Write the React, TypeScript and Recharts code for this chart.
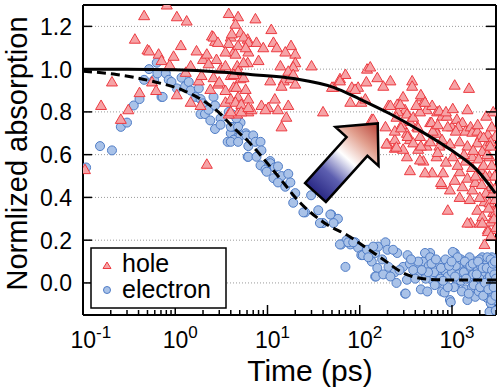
import { ComposedChart, Scatter, Line, XAxis, YAxis, CartesianGrid } from 'recharts';

// hole (triangles): [time ps, normalized absorption]
const hole: [number, number][] = [
  [0.105, 0.53], [0.157, 0.83], [0.206, 0.94], [0.257, 0.765], [0.31, 0.81], [0.365, 1.14], [0.41, 0.89],
  [0.46, 1.25], [0.5, 1.09], [0.52, 1.085], [0.56, 0.94], [0.62, 0.9], [0.66, 1.07], [0.71, 1.04], [0.81, 1.3],
  [0.87, 1.02], [0.96, 1.06], [1.04, 1.245], [1.15, 1.11], [1.04, 0.88], [1.3, 0.985], [1.33, 1.225],
  [1.47, 1.015], [1.47, 0.845], [1.7, 1.085], [1.8, 0.945], [1.88, 0.83], [1.93, 0.97], [2.0, 1.045],
  [2.2, 1.07], [2.4, 0.905], [2.3, 1.025], [2.5, 1.155], [2.7, 1.13], [2.6, 0.96], [2.8, 1.045], [3.1, 1.0],
  [2.9, 0.93], [2.2, 0.555], [2.6, 1.15], [2.9, 1.125], [3.0, 0.94],
  [3.8, 1.26], [4.8, 1.245], [4.5, 1.21], [5.1, 1.17], [4.0, 1.15], [3.8, 1.12], [6.1, 1.14], [4.3, 1.08],
  [6.2, 1.08], [6.1, 1.03], [4.7, 1.015], [4.0, 0.97], [5.1, 0.955], [4.3, 0.915], [5.8, 0.905], [4.7, 0.86],
  [3.5, 0.845], [6.2, 0.86], [4.7, 0.79], [3.8, 0.79], [6.2, 0.8],
  [7.4, 1.235], [11, 1.185], [4.1, 1.165], [5.5, 1.15], [6.2, 1.125], [7.6, 1.125], [4.8, 1.11], [5.8, 1.1],
  [9.0, 1.1], [11.6, 1.125], [12.6, 1.1], [18, 1.11], [15.6, 1.08], [20, 1.07], [3.5, 1.08], [4.5, 1.07],
  [5.5, 1.03], [8, 1.04], [20, 1.03], [19, 1.01], [13.8, 1.015], [30, 1.015], [16.8, 0.99], [3.5, 1.015],
  [4.8, 0.99], [4.3, 0.975], [5.5, 0.96], [10.7, 0.945], [15, 0.945], [17.7, 0.955], [19, 0.975], [14.2, 0.92],
  [20, 0.93], [4.6, 0.915], [3.5, 0.9], [4.0, 0.86], [4.8, 0.87], [4.5, 0.845], [5.2, 0.835], [8.6, 0.83],
  [10.2, 0.82], [12, 0.86], [13, 0.81], [16.8, 0.83], [6.7, 0.81], [9.5, 0.81], [16, 0.775], [14.2, 0.73],
  [40, 0.8], [52, 0.915], [61, 0.955], [70, 0.975], [82, 0.915], [96, 0.915], [79, 0.845], [104, 0.845],
  [5.2, 0.8], [4.0, 0.8], [6.2, 0.82], [50, 0.915], [61, 0.945], [89, 0.905], [115, 0.86],
  [120, 1.0], [155, 0.96], [215, 0.945], [370, 0.945], [370, 0.92], [1070, 0.925], [1530, 0.91], [130, 1.01],
  [118, 0.94], [180, 0.92], [135, 0.765], [190, 0.73], [200, 0.65], [240, 0.63], [240, 0.67], [295, 0.87],
  [255, 0.835], [205, 0.83], [310, 0.81], [260, 0.8], [325, 0.79], [350, 0.755], [285, 0.74], [325, 0.7],
  [350, 0.67], [420, 0.73], [380, 0.775], [470, 0.87], [490, 0.845], [530, 0.81], [450, 0.8], [610, 0.83],
  [690, 0.8], [780, 0.78], [580, 0.75], [650, 0.725], [450, 0.685], [530, 0.64], [690, 0.7], [780, 0.67],
  [880, 0.78], [1000, 0.73], [1130, 0.765], [1300, 0.75], [1470, 0.81], [430, 0.625], [325, 0.59],
  [490, 0.57], [610, 0.515], [780, 0.46], [950, 0.435], [800, 0.515],
  [275, 0.835], [460, 0.88], [510, 0.845], [410, 0.83], [215, 0.83], [250, 0.775], [730, 0.805], [860, 0.8],
  [1020, 0.815], [140, 0.765], [240, 0.71], [280, 0.725], [330, 0.685], [430, 0.725], [600, 0.75], [620, 0.71],
  [700, 0.74], [900, 0.73], [1170, 0.73], [1100, 0.71], [1400, 0.71], [1590, 0.73], [1660, 0.705], [1880, 0.71],
  [2040, 0.685], [2450, 0.695], [2950, 0.685], [195, 0.65], [380, 0.655], [460, 0.64], [580, 0.66], [730, 0.64],
  [950, 0.65], [1210, 0.66], [1470, 0.64], [1880, 0.655], [2330, 0.64], [2630, 0.66], [295, 0.625], [250, 0.635],
  [450, 0.575], [680, 0.59], [1020, 0.59], [1660, 0.59], [2550, 0.59], [2130, 0.615],
  [350, 0.525], [510, 0.515], [700, 0.61], [860, 0.565], [760, 0.47], [900, 0.34], [1070, 0.48], [1210, 0.52],
  [1300, 0.45], [1470, 0.49], [1660, 0.435], [1790, 0.47], [1590, 0.28], [1880, 0.34], [2000, 0.28], [2130, 0.31],
  [2250, 0.38], [2450, 0.25], [2630, 0.285], [2800, 0.33], [2950, 0.25], [2250, 0.18], [2550, 0.375], [2950, 0.39],
  [3000, 0.26], [1400, 0.57], [2040, 0.53], [2550, 0.5], [2630, 0.45], [2330, 0.42], [1560, 0.39], [1210, 0.4],
  [1470, 0.28], [2130, 0.28], [2450, 0.24], [2950, 0.33],
  [1700, 0.62], [1950, 0.58], [2200, 0.55], [2400, 0.6], [2700, 0.55], [2900, 0.5], [2750, 0.42], [2500, 0.35],
  [2850, 0.3], [2650, 0.22], [1800, 0.5], [2100, 0.46], [2300, 0.5], [1350, 0.6], [1150, 0.55], [1650, 0.54],
  [2000, 0.4], [2900, 0.44], [2600, 0.64], [2200, 0.68], [1900, 0.74], [2700, 0.73], [2350, 0.78], [2800, 0.8],
];

// electron (circles): [time ps, normalized absorption]
const electron: [number, number][] = [
  [0.108, 0.54], [0.153, 0.64], [0.206, 0.62], [0.257, 0.73], [0.3, 0.75], [0.355, 0.83], [0.41, 0.86],
  [0.46, 0.95], [0.52, 1.0], [0.63, 1.03], [0.71, 0.87], [0.59, 0.95], [0.64, 0.98], [0.73, 0.87], [0.79, 0.98],
  [0.85, 0.95], [0.91, 0.94], [1.04, 0.91], [1.17, 0.96], [1.28, 0.92], [1.4, 0.94], [1.47, 0.9], [1.66, 0.87],
  [1.8, 0.91], [1.88, 0.86], [2.0, 0.84], [1.88, 0.79], [2.1, 0.79], [2.3, 0.81], [2.4, 0.76], [2.6, 0.87],
  [2.7, 0.83], [2.7, 0.72], [3.1, 0.77], [3.1, 0.74],
  [3.7, 0.66], [4.0, 0.7], [4.3, 0.73], [4.7, 0.68], [6.1, 0.59], [5.1, 0.75], [5.8, 0.7], [3.8, 0.8],
  [4.1, 0.79], [4.0, 0.73], [4.6, 0.77], [4.8, 0.73], [4.3, 0.67], [5.1, 0.69], [4.0, 0.66], [4.8, 0.66],
  [5.9, 0.69], [7.0, 0.69], [6.2, 0.64], [7.4, 0.66], [8.4, 0.66], [8.6, 0.62], [6.2, 0.59], [10.7, 0.57],
  [7.6, 0.59], [8.4, 0.55], [9.5, 0.53], [10.7, 0.56], [12, 0.54], [13, 0.545], [9.8, 0.52], [11.6, 0.49],
  [14.2, 0.5], [16.8, 0.51], [13, 0.47], [15.6, 0.45], [17.7, 0.47], [20, 0.42], [19, 0.375], [25.6, 0.33],
  [29.7, 0.41], [35.5, 0.34], [40, 0.28], [49, 0.32], [58, 0.3], [52, 0.28], [63, 0.18], [72, 0.2], [79, 0.18],
  [89, 0.19], [96, 0.165], [104, 0.13], [70, 0.075],
  [24.5, 0.33], [37, 0.28], [48, 0.32], [61, 0.18], [75, 0.19], [85, 0.19], [108, 0.13], [120, 0.155],
  [135, 0.1], [147, 0.14], [158, 0.17], [190, 0.19], [175, 0.11], [155, 0.07], [200, 0.155], [205, 0.075],
  [147, 0.03], [255, 0.14], [240, 0.05], [295, 0.075], [310, -0.05], [325, 0.015], [350, 0.09], [420, 0.04],
  [450, 0.07], [490, 0.1], [580, 0.14], [610, 0.015], [690, 0.045], [780, -0.04], [880, 0.085], [950, -0.08],
  [1070, 0.14], [1130, 0.0], [1300, 0.07], [1570, 0.03], [1850, 0.1], [2000, 0.015], [2250, 0.06], [2400, -0.07],
  [2560, 0.0], [2700, -0.12], [2950, 0.047],
  [140, 0.17], [124, 0.12], [150, 0.03], [180, 0.04], [230, 0.155], [315, -0.05], [330, 0.13], [430, 0.1],
  [510, 0.14], [580, 0.12], [1020, 0.145], [970, -0.09], [1210, 0.09], [1470, -0.08], [1750, 0.1], [2130, 0.12],
  [2630, -0.095], [2550, -0.135], [2950, -0.03], [1790, -0.065], [700, 0.0], [830, -0.045], [460, -0.03],
  [250, 0.0], [215, 0.03],
  [380, 0.06], [520, 0.02], [560, 0.08], [640, 0.05], [720, 0.09], [750, 0.02], [820, 0.06], [900, 0.03],
  [1000, 0.05], [1050, -0.02], [1100, 0.08], [1180, 0.04], [1250, 0.01], [1350, 0.05], [1400, -0.03],
  [1450, 0.09], [1500, 0.02], [1600, 0.07], [1650, -0.02], [1700, 0.04], [1800, 0.0], [1900, 0.06],
  [1950, -0.04], [2050, 0.08], [2100, 0.03], [2200, -0.02], [2300, 0.05], [2350, 0.1], [2450, 0.02],
  [2500, 0.06], [2600, -0.04], [2650, 0.08], [2750, 0.03], [2800, -0.06], [2850, 0.06], [2900, 0.0],
  [3000, -0.08], [3000, 0.09], [2980, -0.13], [1250, 0.11], [900, -0.02], [650, -0.01], [550, 0.05],
  [400, 0.02], [360, 0.11], [270, 0.06], [1550, 0.12], [2000, 0.11], [2700, 0.12],
  [600, 0.09], [670, 0.11], [760, 0.07], [850, 0.11], [930, 0.08], [1150, 0.12], [1280, -0.04], [1380, 0.1],
  [1420, 0.02], [1520, -0.05], [1580, 0.08], [1680, 0.09], [1720, -0.01], [1850, 0.04], [1920, 0.1],
  [2020, -0.02], [2150, 0.07], [2180, -0.06], [2280, 0.0], [2380, 0.07], [2420, 0.12], [2480, -0.03],
  [2580, 0.03], [2620, 0.11], [2680, -0.08], [2720, 0.06], [2780, 0.09], [2830, -0.02], [2880, 0.04],
  [2920, 0.1], [2960, -0.06], [2990, 0.02], [1080, 0.03], [990, 0.1], [800, 0.01], [470, 0.06], [540, -0.04],
];

// fit curves
const holeFit: [number, number][] = [
  [0.1, 1.0], [0.3, 1.0], [1, 0.997], [3, 0.987], [6.5, 0.975], [20, 0.955], [52, 0.915], [100, 0.86],
  [215, 0.79], [420, 0.72], [950, 0.625], [1850, 0.53], [2950, 0.42],
];
const electronFit: [number, number][] = [
  [0.1, 0.99], [0.23, 0.975], [0.54, 0.945], [1.23, 0.9], [1.88, 0.86], [3.1, 0.79], [4.3, 0.725],
  [6.1, 0.665], [7.4, 0.625], [13, 0.5], [22.6, 0.375], [40, 0.285], [79, 0.215], [104, 0.18], [180, 0.11],
  [295, 0.047], [490, 0.02], [860, 0.014], [3000, 0.014],
];

const xTicks = [
  0.1, 0.2, 0.3, 0.4, 0.5, 0.6, 0.7, 0.8, 0.9, 1, 2, 3, 4, 5, 6, 7, 8, 9, 10, 20, 30, 40, 50, 60, 70, 80, 90,
  100, 200, 300, 400, 500, 600, 700, 800, 900, 1000, 2000, 3000,
];
const xMajor = [0.1, 1, 10, 100, 1000];
const xExp = ['-1', '0', '1', '2', '3'];
const yTicks = [0, 0.2, 0.4, 0.6, 0.8, 1.0, 1.2];

const FONT = '"Liberation Sans", Arial, Helvetica, sans-serif';
const RED_FILL = '#f6a3a6';
const RED_STROKE = '#ec3a40';
const BLUE_FILL = '#a9c2e8';
const BLUE_STROKE = '#4f7cc6';

const W = 500;
const H = 392;
const MARGIN = { top: 4, right: 3, bottom: 17, left: 23 };
const X_DOMAIN: [number, number] = [0.1, 3000];
const Y_DOMAIN: [number, number] = [-0.15, 1.3];

const toPts = (arr: [number, number][]) => arr.map(([t, y]) => ({ t, y }));

function Triangle({ cx, cy }: any) {
  return (
    <polygon
      points={`${cx},${cy - 5.5} ${cx + 5.5},${cy + 4} ${cx - 5.5},${cy + 4}`}
      fill={RED_FILL}
      stroke={RED_STROKE}
      strokeWidth={1}
    />
  );
}

function Dot({ cx, cy }: any) {
  return <circle cx={cx} cy={cy} r={4.5} fill={BLUE_FILL} stroke={BLUE_STROKE} strokeWidth={1} />;
}

function BottomTick({ x, y, payload }: any) {
  const i = xMajor.indexOf(payload.value);
  const major = i >= 0;
  return (
    <g>
      <line x1={x} x2={x} y1={y} y2={y - (major ? 10 : 5)} stroke="#000" strokeWidth={1.5} />
      {major && (
        <text x={x - 12.5} y={y + 33} fontSize={23} fontFamily={FONT} fill="#000">
          10<tspan dy={-10} fontSize={17}>{xExp[i]}</tspan>
        </text>
      )}
    </g>
  );
}

function TopTick({ x, y, payload }: any) {
  const major = xMajor.includes(payload.value);
  return <line x1={x} x2={x} y1={y} y2={y + (major ? 10 : 6)} stroke="#000" strokeWidth={1.5} />;
}

function LeftTick({ x, y, payload }: any) {
  return (
    <g>
      <line x1={x} x2={x + 9} y1={y} y2={y} stroke="#000" strokeWidth={1.5} />
      <text x={x - 11} y={y + 8.5} textAnchor="end" fontSize={23} fontFamily={FONT} fill="#000">
        {payload.value.toFixed(1)}
      </text>
    </g>
  );
}

function RightTick({ x, y }: any) {
  return <line x1={x} x2={x - 10} y1={y} y2={y} stroke="#000" strokeWidth={1.5} />;
}

export default function App() {
  return (
    <div style={{ position: 'absolute', left: 0, top: 0, width: W, height: H, background: '#fff' }}>
      {/* markers, grid and frame */}
      <ComposedChart width={W} height={H} margin={MARGIN}>
        <CartesianGrid vertical={false} stroke="#9a9a9a" strokeDasharray="1 2" />
        <XAxis
          dataKey="t"
          type="number"
          scale="log"
          domain={X_DOMAIN}
          allowDataOverflow
          ticks={xTicks}
          interval={0}
          height={60}
          tickSize={0}
          tickMargin={0}
          tick={BottomTick}
          axisLine={{ stroke: '#000', strokeWidth: 2 }}
        />
        <XAxis
          xAxisId="top"
          orientation="top"
          type="number"
          scale="log"
          domain={X_DOMAIN}
          allowDataOverflow
          ticks={xTicks}
          interval={0}
          height={1}
          tickSize={0}
          tickMargin={0}
          tick={TopTick}
          axisLine={{ stroke: '#000', strokeWidth: 2 }}
        />
        <YAxis
          dataKey="y"
          type="number"
          domain={Y_DOMAIN}
          allowDataOverflow
          ticks={yTicks}
          interval={0}
          width={60}
          tickSize={0}
          tickMargin={0}
          tick={LeftTick}
          axisLine={{ stroke: '#000', strokeWidth: 2 }}
        />
        <YAxis
          yAxisId="r"
          orientation="right"
          type="number"
          domain={Y_DOMAIN}
          allowDataOverflow
          ticks={yTicks}
          interval={0}
          width={1}
          tickSize={0}
          tickMargin={0}
          tick={RightTick}
          axisLine={{ stroke: '#000', strokeWidth: 2 }}
        />
        <Scatter data={toPts(electron)} dataKey="y" shape={Dot} isAnimationActive={false} />
        <Scatter data={toPts(hole)} dataKey="y" shape={Triangle} isAnimationActive={false} />
      </ComposedChart>

      {/* fit curves, drawn on top of the markers with the same axes */}
      <div style={{ position: 'absolute', left: 0, top: 0, pointerEvents: 'none' }}>
        <ComposedChart width={W} height={H} margin={MARGIN}>
          <XAxis
            dataKey="t"
            type="number"
            scale="log"
            domain={X_DOMAIN}
            allowDataOverflow
            height={60}
            tick={false}
            axisLine={false}
            tickLine={false}
          />
          <XAxis xAxisId="top" orientation="top" type="number" height={1} tick={false} axisLine={false} tickLine={false} />
          <YAxis
            dataKey="y"
            type="number"
            domain={Y_DOMAIN}
            allowDataOverflow
            width={60}
            tick={false}
            axisLine={false}
            tickLine={false}
          />
          <YAxis yAxisId="r" orientation="right" type="number" width={1} tick={false} axisLine={false} tickLine={false} />
          <Line
            data={toPts(holeFit)}
            dataKey="y"
            type="monotone"
            stroke="#000"
            strokeWidth={3}
            dot={false}
            isAnimationActive={false}
          />
          <Line
            data={toPts(electronFit)}
            dataKey="y"
            type="monotone"
            stroke="#000"
            strokeWidth={3}
            strokeDasharray="9 5"
            dot={false}
            isAnimationActive={false}
          />
        </ComposedChart>
      </div>

      <svg width={W} height={H} style={{ position: 'absolute', left: 0, top: 0, pointerEvents: 'none' }}>
        <defs>
          <linearGradient id="arrowGrad" gradientUnits="userSpaceOnUse" x1={0} y1={0} x2={93} y2={0}>
            <stop offset="0" stopColor="#2a2985" />
            <stop offset="0.25" stopColor="#5d5fb0" />
            <stop offset="0.5" stopColor="#ffffff" />
            <stop offset="0.75" stopColor="#e2a08f" />
            <stop offset="1" stopColor="#b9443a" />
          </linearGradient>
        </defs>
        {/* gradient arrow */}
        <g transform="translate(315.5,192.5) rotate(-48)">
          <polygon
            points="0,-14 62,-14 62,-29 93,0 62,29 62,14 0,14"
            fill="url(#arrowGrad)"
            stroke="#000"
            strokeWidth={2.5}
          />
        </g>

        {/* legend */}
        <rect x={91} y={248} width={135} height={60} fill="#fff" stroke="#000" strokeWidth={1.5} />
        <polygon points="107,262 111,268.5 103,268.5" fill={RED_FILL} stroke={RED_STROKE} strokeWidth={1} />
        <circle cx={107} cy={290} r={3.5} fill={BLUE_FILL} stroke={BLUE_STROKE} strokeWidth={1} />
        <text x={122} y={272} fontSize={25} fontFamily={FONT} fill="#000">hole</text>
        <text x={122} y={298} fontSize={25} fontFamily={FONT} fill="#000">electron</text>

        {/* axis titles */}
        <text x={310} y={381} textAnchor="middle" fontSize={30} fontFamily={FONT} fill="#000">
          Time (ps)
        </text>
        <text
          transform="translate(27,153.5) rotate(-90)"
          textAnchor="middle"
          fontSize={29}
          fontFamily={FONT}
          fill="#000"
        >
          Normlized absorption
        </text>
      </svg>
    </div>
  );
}
